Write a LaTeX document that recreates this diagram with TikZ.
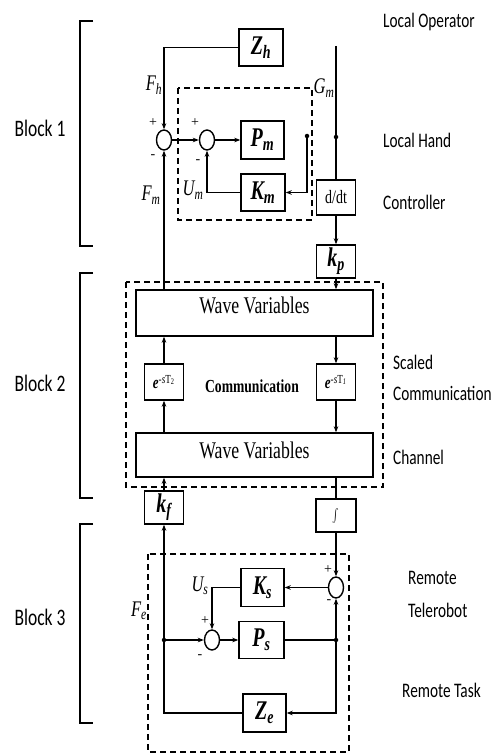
\documentclass[tikz,border=0pt]{standalone}
\usepackage{fontspec}
\usepackage{graphicx}
\setmainfont{Liberation Serif}
\newfontfamily\carl{Carlito}
\usetikzlibrary{arrows.meta,shapes.geometric}
\newcommand{\vs}[1]{\scalebox{1}[1.35]{#1}}
\newcommand{\bsym}[2]{{\bfseries\itshape #1\textsubscript{#2}}}
\begin{document}
\begin{tikzpicture}[x=1pt,y=-1pt,
  blk/.style={draw, line width=1.4pt, inner sep=0pt, font=\fontsize{20}{22}\selectfont},
  wvbox/.style={draw, line width=1.4pt, inner sep=0pt, minimum width=237pt},
  sumj/.style={draw, ellipse, line width=1.4pt, inner sep=0pt, minimum width=15pt, minimum height=20pt},
  ln/.style={line width=1.2pt},
  arr/.style={line width=1.2pt, -{Stealth[length=6pt,width=4.5pt]}},
  dbox/.style={line width=1.2pt, dash pattern=on 6pt off 4pt},
  dotn/.style={circle, fill, inner sep=0pt, minimum size=4.5pt},
  rlab/.style={anchor=west, inner sep=0pt, font=\carl\fontsize{15.3}{18}\selectfont},
  blab/.style={inner sep=0pt, font=\carl\fontsize{17.5}{20}\selectfont},
  mlab/.style={inner sep=0pt, font=\itshape\fontsize{16.5}{18}\selectfont},
  sgn/.style={inner sep=0pt, font=\fontsize{14}{16}\selectfont},
  brk/.style={line width=1.3pt}
]
\useasboundingbox (0,0) rectangle (497,754);

% brackets and block labels
\draw[brk] (93,21) -- (80,21) -- (80,246) -- (93,246);
\draw[brk] (93,273) -- (80,273) -- (80,498) -- (93,498);
\draw[brk] (93,524) -- (80,524) -- (80,723) -- (93,723);
\node[blab] (b1) at (40,128) {\vs{Block 1}};
\node[blab] (b2) at (40,383) {\vs{Block 2}};
\node[blab] (b3) at (40,617) {\vs{Block 3}};

% right labels
\node[rlab] (lo) at (383,22) {\vs{Local Operator}};
\node[rlab] (lh) at (383,140) {\vs{Local Hand}};
\node[rlab] (lc) at (383,202) {\vs{Controller}};
\node[rlab] (sc1) at (393,362) {\vs{Scaled}};
\node[rlab] (sc2) at (393,393) {\vs{Communication}};
\node[rlab] (sc3) at (393,457) {\vs{Channel}};
\node[rlab] (rt1) at (408,578) {\vs{Remote}};
\node[rlab] (rt2) at (408,610) {\vs{Telerobot}};
\node[rlab] (rt3) at (402,690) {\vs{Remote Task}};

% dashed boxes
\draw[dbox] (178,88) rectangle (312,220);
\draw[dbox] (126,282) rectangle (383,487);
\draw[dbox] (148,554) rectangle (349,752);

% Block 1
\node[blk, minimum width=44pt, minimum height=37pt] (zh) at (261,47.5) {\vs{\bsym{Z}{h}}};
\node[sumj] (sum1) at (164,140) {};
\node[sumj] (sum2) at (207,140) {};
\node[blk, minimum width=43pt, minimum height=38pt] (pm) at (262.5,140) {\vs{\bsym{P}{m}}};
\node[blk, minimum width=44pt, minimum height=37pt] (km) at (263,192.5) {\vs{\bsym{K}{m}}};
\node[dotn] (d1) at (307,136) {};
\node[blk, minimum width=39pt, minimum height=35pt, font=\fontsize{14}{16}\selectfont] (ddt) at (336,197.5) {\vs{d/dt}};
\node[blk, minimum width=39pt, minimum height=33pt] (kp) at (336,261.5) {\vs{\bsym{k}{p}}};
\coordinate (gtop) at (336,46);
\node[dotn] (d2) at (336,137) {};

\node[mlab] (fh) at (154,85) {\vs{F\textsubscript{h}}};
\node[mlab] (gm) at (324,88) {\vs{G\textsubscript{m}}};
\node[mlab] (fm) at (151,195) {\vs{F\textsubscript{m}}};
\node[mlab] (um) at (193,190) {\vs{U\textsubscript{m}}};
\node[sgn] (s1p) at (153,123) {+};
\node[sgn] (s1m) at (153,157) {-};
\node[sgn] (s2p) at (195,123) {+};
\node[sgn] (s2m) at (198,162) {-};

% Block 2
\node[wvbox, minimum height=46pt] (wvt) at (254.5,313) {};
\node[inner sep=0pt, font=\fontsize{17.7}{20}\selectfont] (wvtl) at (254.5,305) {\vs{Wave Variables}};
\node[wvbox, minimum height=44pt] (wvb) at (254.5,455) {};
\node[inner sep=0pt, font=\fontsize{17.7}{20}\selectfont] (wvbl) at (254.5,450) {\vs{Wave Variables}};
\node[blk, minimum width=39pt, minimum height=36pt, font=\fontsize{13}{15}\selectfont] (et2) at (164,382)
  {\vs{{\bfseries\itshape e}\textsuperscript{-{\itshape s}T\textsubscript{2}}}};
\node[blk, minimum width=39pt, minimum height=36pt, font=\fontsize{13}{15}\selectfont] (et1) at (336,382)
  {\vs{{\bfseries\itshape e}\textsuperscript{-{\itshape s}T\textsubscript{\itshape 1}}}};
\node[inner sep=0pt, font=\bfseries\fontsize{13.6}{16}\selectfont] (comm) at (252,386) {\vs{Communication}};

% Block 3
\node[blk, minimum width=39pt, minimum height=33pt] (kf) at (164,507.5) {\vs{\bsym{k}{f}}};
\node[blk, minimum width=40pt, minimum height=33pt, font=\fontsize{15}{17}\selectfont] (intg) at (336,515.5) {\vs{$\int$}};
\node[sumj, minimum height=21pt] (sum3) at (336,587.5) {};
\node[blk, minimum width=43pt, minimum height=38pt] (ks) at (262.5,587.5) {\vs{\bsym{K}{s}}};
\node[sumj] (sum4) at (212,640) {};
\node[blk, minimum width=45pt, minimum height=37pt] (ps) at (261.5,640) {\vs{\bsym{P}{s}}};
\node[blk, minimum width=43pt, minimum height=38pt] (ze) at (264.5,713) {\vs{\bsym{Z}{e}}};
\node[dotn] (d3) at (336,640) {};
\node[dotn] (d4) at (164,640) {};

\node[mlab] (us) at (200,586) {\vs{U\textsubscript{s}}};
\node[mlab] (fe) at (139,611) {\vs{F\textsubscript{e}}};
\node[sgn] (s3p) at (328,570) {+};
\node[sgn] (s3m) at (329,602) {-};
\node[sgn] (s4p) at (205,621) {+};
\node[sgn] (s4m) at (200,657) {-};

% connectors block 1
\draw[arr] (zh.west) -| (sum1.north);
\draw[arr] (sum1.east) -- (sum2.west);
\draw[arr] (sum2.east) -- (pm.west);
\draw[arr] (d1.center) |- (km.east);
\draw[arr] (km.west) -| (sum2.south);
\draw[arr] (wvt.north -| sum1.south) -- (sum1.south);
\draw[ln] (gtop) -- (ddt.north);
\draw[arr] (ddt.south) -- (kp.north);
\draw[arr] (kp.south) -- (kp.south |- wvt.north);

% connectors block 2
\draw[arr] (wvt.south -| et1.north) -- (et1.north);
\draw[arr] (et1.south) -- (et1.south |- wvb.north);
\draw[arr] (wvb.north -| et2.south) -- (et2.south);
\draw[arr] (et2.north) -- (et2.north |- wvt.south);
\draw[arr] (kf.north) -- (kf.north |- wvb.south);
\draw[ln] (wvb.south -| intg.north) -- (intg.north);

% connectors block 3
\draw[arr] (intg.south) -- (sum3.north);
\draw[arr] (sum3.west) -- (ks.east);
\draw[arr] (ks.west) -| (sum4.north);
\draw[arr] (sum4.east) -- (ps.west);
\draw[ln] (ps.east) -- (d3.center);
\draw[arr] (d3.center) -- (sum3.south);
\draw[arr] (d3.center) |- (ze.east);
\draw[ln] (ze.west) -| (d4.center);
\draw[arr] (d4.center) -- (kf.south);
\draw[arr] (d4.center) -- (sum4.west);
\end{tikzpicture}
\end{document}
